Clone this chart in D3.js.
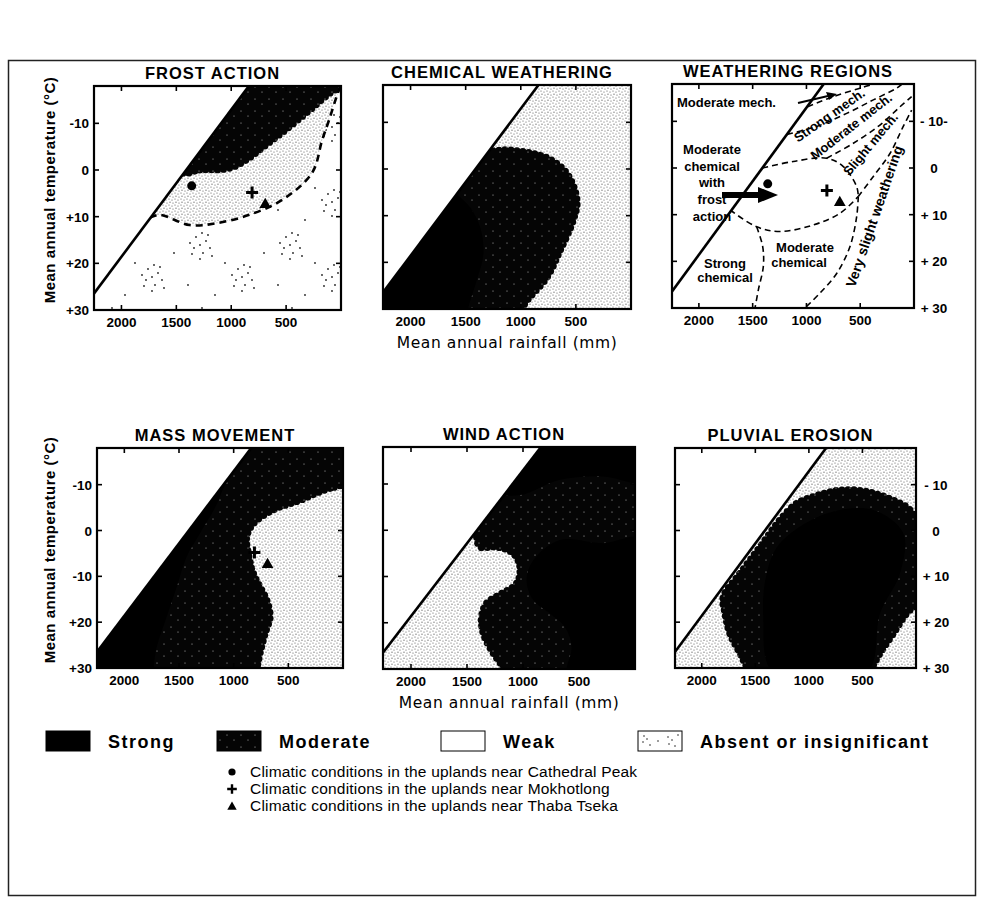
<!DOCTYPE html>
<html>
<head>
<meta charset="utf-8">
<script src="https://d3js.org/d3.v7.min.js"></script>
<style>
body { margin: 0; background: #fff; }
svg text { font-family: "Liberation Sans", Arial, sans-serif; fill: #000; }
</style>
</head>
<body>
<svg id="chart" width="988" height="908"></svg>
<script>
// Axes
const rainDomain = [2250, 0];
const tempDomain = [-18, 30];
const rainTicks = [2000, 1500, 1000, 500];
const tempTicks = [-10, 0, 10, 20, 30];
const leftLabelsTop = ['-10', '0', '+10', '+20', '+30'];
const leftLabelsBottom = ['-10', '0', '-10', '+20', '+30'];
const rightLabelsTop = ['- 10-', '0', '+ 10', '+ 20', '+ 30'];
const rightLabelsBottom = ['- 10', '0', '+ 10', '+ 20', '+ 30'];

// Climatic limit (rainfall mm, temperature °C)
const limitLine = [[2400, 31.2], [760, -20.5]];
const validArea = [[2400, 31.2], [760, -20.5], [-100, -20.5], [-100, 36], [2400, 36]];

// Stations
const stationNames = ['Cathedral Peak', 'Mokhotlong', 'Thaba Tseka'];
const stationSymbols = ['circle', 'plus', 'triangle'];
const stationRain = [1360, 810, 690];
const stationTemp = [3.4, 4.8, 7.2];

// FROST ACTION
const frostModerate = [[1450, 0.5], [1288, 0], [989, -0.6], [626, -6.4], [317, -12.2], [100, -16.5], [-60, -19], [-60, -24], [700, -24], [1500, -24], [1600, -10]];
const frostLight = [[1760, 10], [1651, 9.6], [1379, 11.8], [1134, 11.4], [835, 9.6], [535, 6.4], [263, 0.6], [172, -6.4], [109, -10.7], [36, -16], [-30, -20], [-60, -25], [1000, -25], [2300, -25], [2300, 10]];
const frostDashed = [[1740, 10.2], [1651, 9.6], [1379, 11.8], [1134, 11.4], [835, 9.6], [535, 6.4], [263, 0.6], [172, -6.4], [109, -10.7], [36, -16], [-30, -20]];

// CHEMICAL WEATHERING
const chemModerate = [[1400, -4.5], [1252, -3.9], [1125, -4.1], [762, -2.4], [580, 1.0], [490, 6.8], [526, 11.1], [644, 17.5], [762, 23.2], [943, 28.2], [1020, 31], [1100, 35], [2000, 35], [2400, 20], [2000, 0]];
const chemStrong = [[1700, 3], [1581, 5.4], [1460, 8.2], [1369, 12.5], [1339, 18.2], [1400, 23.9], [1480, 30], [1520, 35], [2400, 35], [2400, 3]];

// WEATHERING REGIONS (boundaries)
const wrF1 = [[990, -13.1], [750, -15.3], [502, -17.1], [350, -18.2]];
const wrF2 = [[1180, -7.2], [905, -8.9], [626, -11.7], [378, -14.6], [162, -17.1], [100, -18.2]];
const wrTop = [[1410, 0], [1122, -1.4], [812, -2.1], [657, -0.3], [533, 4.0], [518, 6.1]];
const wrF3 = [[812, -2.1], [564, -5.3], [317, -9.2], [131, -13.1], [22, -15.3]];
const wrBottom = [[1710, 9.0], [1463, 12.6], [1246, 13.6], [936, 12.2], [688, 9.7], [518, 6.1]];
const wrF4 = [[518, 6.1], [378, 1.8], [224, -3.1], [100, -8.9], [22, -12.4]];
const wrD1 = [[1463, 12.6], [1407, 16.8], [1401, 21.1], [1447, 26.1], [1478, 30]];
const wrD2 = [[518, 6.1], [533, 10.4], [595, 16.8], [719, 22.6], [874, 26.8], [1014, 30]];

// MASS MOVEMENT
const massLight = [[-60, -9.5], [118, -9.2], [393, -6.6], [637, -4.5], [820, -1.5], [881, 1.4], [866, 5.0], [820, 9.4], [759, 12.3], [698, 15.2], [667, 18.8], [713, 22.5], [759, 26.8], [790, 31], [800, 36], [-80, 36], [-80, 10]];
const massStrong = [[1064, -15.4], [1125, -7.4], [1308, 0.6], [1430, 5.7], [1521, 12.3], [1613, 18.8], [1704, 25.4], [1734, 30.1], [1760, 36], [2500, 36], [2500, -16]];

// WIND ACTION
const windModerate = [[1500, -1], [1429, 0.3], [1385, 3.6], [1236, 3.6], [1087, 5.0], [1027, 7.9], [1057, 11.5], [1191, 13.7], [1325, 15.8], [1370, 18.7], [1355, 22.3], [1265, 26.6], [1176, 30], [1150, 36], [-80, 36], [-80, -25], [1200, -25]];
const windStrongTop = [[1250, -8.5], [1027, -7.6], [670, -10.9], [283, -11.6], [0, -10.1], [-80, -10], [-80, -25], [1100, -25]];
const windStrongLow = [[-80, 2], [283, 2.8], [670, 2.1], [908, 6.5], [968, 10.8], [908, 15.1], [760, 18.0], [626, 20.9], [566, 25.2], [611, 30], [620, 36], [-80, 36]];

// PLUVIAL EROSION
const pluvModerate = [[1799, 14.5], [1643, 9.4], [1457, 3.6], [1270, -2.3], [1114, -5.9], [959, -7.4], [710, -8.8], [461, -8.5], [212, -6.6], [56, -4.5], [-40, 0], [-60, 8], [-40, 15], [87, 18.1], [212, 22.5], [336, 26.8], [430, 31], [500, 36], [1400, 36], [1550, 31], [1643, 26.8], [1737, 22.5], [1783, 18.1]];
const pluvStrong = [[1270, 2.8], [834, -3.7], [399, -4.5], [119, 0.6], [150, 9.4], [336, 18.1], [461, 31], [1332, 31], [1426, 18.8], [1394, 9.4]];

const panels = [
    { title: 'FROST ACTION', x: 94, y: 86, w: 247, h: 224, base: 'absent',
      regions: [{ pts: frostLight, fill: 'light' }, { pts: frostModerate, fill: 'moderate', scallop: true }],
      dashed: [frostDashed], dashWidth: 2.6, dash: '7,5', stations: [0, 1, 2], left: leftLabelsTop },
    { title: 'CHEMICAL WEATHERING', x: 383, y: 85, w: 248, h: 224, base: 'light',
      regions: [{ pts: chemModerate, fill: 'moderate', scallop: true }, { pts: chemStrong, fill: 'strong' }],
      dashed: [], stations: [] },
    { title: 'WEATHERING REGIONS', x: 672, y: 84, w: 242, h: 224, base: 'weak',
      regions: [], dashed: [wrF1, wrF2, wrTop, wrF3, wrBottom, wrF4, wrD1, wrD2], dashWidth: 1.6, dash: '6,4',
      stations: [0, 1, 2], right: rightLabelsTop },
    { title: 'MASS MOVEMENT', x: 97, y: 448, w: 246, h: 220, base: 'moderate',
      regions: [{ pts: massLight, fill: 'light', scallop: true }, { pts: massStrong, fill: 'strong' }],
      dashed: [], stations: [1, 2], left: leftLabelsBottom },
    { title: 'WIND ACTION', x: 383, y: 447, w: 252, h: 222, base: 'light',
      regions: [{ pts: windModerate, fill: 'moderate', scallop: true }, { pts: windStrongTop, fill: 'strong' }, { pts: windStrongLow, fill: 'strong' }],
      dashed: [], stations: [] },
    { title: 'PLUVIAL EROSION', x: 675, y: 448, w: 241, h: 220, base: 'light',
      regions: [{ pts: pluvModerate, fill: 'moderate', scallop: true }, { pts: pluvStrong, fill: 'strong' }],
      dashed: [], stations: [], right: rightLabelsBottom }
];

const svg = d3.select('#chart');
const defs = svg.append('defs');

// Fill patterns
const lightPat = defs.append('pattern').attr('id', 'light')
    .attr('patternUnits', 'userSpaceOnUse').attr('width', 6).attr('height', 6);
lightPat.append('rect').attr('width', 6).attr('height', 6).attr('fill', '#fff');
[[1, 1], [4, 2], [2, 4.2], [5, 5]].forEach(([cx, cy]) =>
    lightPat.append('circle').attr('cx', cx).attr('cy', cy).attr('r', 0.6).attr('fill', '#555'));

const modPat = defs.append('pattern').attr('id', 'moderate')
    .attr('patternUnits', 'userSpaceOnUse').attr('width', 14).attr('height', 12);
modPat.append('rect').attr('width', 14).attr('height', 12).attr('fill', '#050505');
[[3, 3], [10, 8]].forEach(([cx, cy]) =>
    modPat.append('circle').attr('cx', cx).attr('cy', cy).attr('r', 0.55).attr('fill', '#fff').attr('opacity', 0.75));

const absPat = defs.append('pattern').attr('id', 'absent')
    .attr('patternUnits', 'userSpaceOnUse').attr('width', 90).attr('height', 75);
absPat.append('rect').attr('width', 90).attr('height', 75).attr('fill', '#fff');
const clusterDots = [[0, 0], [6, -4], [-6, 3], [3, 8], [-4, -8], [10, 3], [-10, -2], [2, -12], [8, -10], [-8, 9], [12, 11], [0, 14]];
[[20, 20], [62, 52]].forEach(([cx, cy]) => clusterDots.forEach(([dx, dy]) =>
    absPat.append('circle').attr('cx', cx + dx).attr('cy', cy + dy).attr('r', 0.9).attr('fill', '#222')));
[[45, 38], [8, 60], [84, 28], [35, 70]].forEach(([cx, cy]) =>
    absPat.append('circle').attr('cx', cx).attr('cy', cy).attr('r', 0.9).attr('fill', '#222'));

const fills = { light: 'url(#light)', moderate: 'url(#moderate)', absent: 'url(#absent)', strong: '#000', weak: '#fff' };

panels.forEach((p, i) => {
    const x = d3.scaleLinear().domain(rainDomain).range([p.x, p.x + p.w]);
    const y = d3.scaleLinear().domain(tempDomain).range([p.y, p.y + p.h]);
    const pt = d => [x(d[0]), y(d[1])];
    const closed = d3.line().curve(d3.curveCatmullRomClosed);
    const open = d3.line().curve(d3.curveCatmullRom);

    defs.append('clipPath').attr('id', 'panel' + i).append('rect')
        .attr('x', p.x).attr('y', p.y).attr('width', p.w).attr('height', p.h);
    const validPath = d3.line()(validArea.map(pt)) + 'Z';
    defs.append('clipPath').attr('id', 'valid' + i).append('path').attr('d', validPath);

    const g = svg.append('g').attr('clip-path', `url(#panel${i})`);
    g.append('rect').attr('x', p.x).attr('y', p.y).attr('width', p.w).attr('height', p.h).attr('fill', '#fff');
    const inner = g.append('g').attr('clip-path', `url(#valid${i})`);
    inner.append('path').attr('d', validPath).attr('fill', fills[p.base]);

    p.regions.forEach(r => {
        const path = inner.append('path').attr('d', closed(r.pts.map(pt))).attr('fill', fills[r.fill]);
        if (r.scallop) {
            const node = path.node();
            const len = node.getTotalLength();
            for (let s = 0; s < len; s += 6) {
                const q = node.getPointAtLength(s);
                if (q.x < p.x - 6 || q.x > p.x + p.w + 6 || q.y < p.y - 6 || q.y > p.y + p.h + 6) continue;
                inner.append('circle').attr('cx', q.x).attr('cy', q.y).attr('r', 3.6).attr('fill', 'url(#moderate)');
            }
        }
    });

    p.dashed.forEach(d => {
        inner.append('path').attr('d', open(d.map(pt)))
            .attr('fill', 'none').attr('stroke', '#000')
            .attr('stroke-width', p.dashWidth).attr('stroke-dasharray', p.dash);
    });

    // limit line
    g.append('line')
        .attr('x1', x(limitLine[0][0])).attr('y1', y(limitLine[0][1]))
        .attr('x2', x(limitLine[1][0])).attr('y2', y(limitLine[1][1]))
        .attr('stroke', '#000').attr('stroke-width', 2.6);

    // stations
    p.stations.forEach(k => {
        drawSymbol(g, stationSymbols[k], x(stationRain[k]), y(stationTemp[k]), 1);
    });

    // frame + ticks
    svg.append('rect').attr('x', p.x).attr('y', p.y).attr('width', p.w).attr('height', p.h)
        .attr('fill', 'none').attr('stroke', '#000').attr('stroke-width', 2.2);
    const tk = svg.append('g').attr('stroke', '#000').attr('stroke-width', 1.6);
    rainTicks.forEach(t => {
        tk.append('line').attr('x1', x(t)).attr('x2', x(t)).attr('y1', p.y).attr('y2', p.y + 5);
        tk.append('line').attr('x1', x(t)).attr('x2', x(t)).attr('y1', p.y + p.h).attr('y2', p.y + p.h - 5);
    });
    tempTicks.slice(0, 4).forEach(t => {
        tk.append('line').attr('x1', p.x).attr('x2', p.x + 5).attr('y1', y(t)).attr('y2', y(t));
        tk.append('line').attr('x1', p.x + p.w).attr('x2', p.x + p.w - 5).attr('y1', y(t)).attr('y2', y(t));
    });

    // tick labels
    rainTicks.forEach(t => {
        svg.append('text').attr('x', x(t)).attr('y', p.y + p.h + 17)
            .attr('text-anchor', 'middle').attr('font-size', 13.5).attr('font-weight', 'bold').text(t);
    });
    if (p.left) {
        tempTicks.forEach((t, j) => {
            svg.append('text').attr('x', p.x - 5).attr('y', y(t) + 5)
                .attr('text-anchor', 'end').attr('font-size', 13.5).attr('font-weight', 'bold').text(p.left[j]);
        });
    }
    if (p.right) {
        tempTicks.forEach((t, j) => {
            svg.append('text').attr('x', p.x + p.w + 20).attr('y', y(t) + 5)
                .attr('text-anchor', 'middle').attr('font-size', 13.5).attr('font-weight', 'bold').text(p.right[j]);
        });
    }

    svg.append('text').attr('x', p.x + p.w / 2 - 5).attr('y', p.y - 7)
        .attr('text-anchor', 'middle').attr('font-size', 16.5).attr('font-weight', 'bold')
        .attr('letter-spacing', 1).text(p.title);

    if (i % 3 === 0) {
        svg.append('text')
            .attr('transform', `translate(55,${p.y + p.h / 2 - 8}) rotate(-90)`)
            .attr('text-anchor', 'middle').attr('font-size', 15).attr('font-weight', 'bold')
            .attr('letter-spacing', 0.5)
            .text('Mean annual temperature (°C)');
    }
    if (i === 1 || i === 4) {
        svg.append('text').attr('x', p.x + p.w / 2).attr('y', p.y + p.h + 39)
            .attr('text-anchor', 'middle').attr('font-size', 15.5).attr('letter-spacing', 0.6)
            .style('font-family', '"DejaVu Sans", sans-serif')
            .text('Mean annual rainfall (mm)');
    }
});

// Weathering regions annotations
const wr = svg.append('g').attr('font-weight', 'bold').attr('font-size', 13);
wr.append('text').attr('x', 677).attr('y', 107).text('Moderate mech.');
[['Moderate', 154], ['chemical', 171], ['with', 187], ['frost', 204], ['action', 221]].forEach(([t, yy]) =>
    wr.append('text').attr('x', 712).attr('y', yy).attr('text-anchor', 'middle').text(t));
[['Strong', 725, 268], ['chemical', 725, 282], ['Moderate', 805, 252], ['chemical', 799, 267]].forEach(([t, xx, yy]) =>
    wr.append('text').attr('x', xx).attr('y', yy).attr('text-anchor', 'middle').text(t));
[['Strong mech.', 832, 119, -35, 13], ['Moderate mech.', 854, 130, -38, 13], ['Slight mech.', 874, 147, -50, 13], ['Very slight weathering', 879, 218, -71, 14]]
    .forEach(([t, xx, yy, a, fs]) =>
        wr.append('text').attr('transform', `translate(${xx},${yy}) rotate(${a})`)
            .attr('font-size', fs).attr('text-anchor', 'middle').text(t));
// small arrow
wr.append('line').attr('x1', 798).attr('y1', 103).attr('x2', 828).attr('y2', 96)
    .attr('stroke', '#000').attr('stroke-width', 2);
wr.append('path').attr('d', 'M837,94 L826,92 L829,100 Z').attr('fill', '#000');
// big arrow
wr.append('rect').attr('x', 722).attr('y', 192).attr('width', 40).attr('height', 6).attr('fill', '#000');
wr.append('path').attr('d', 'M778,195 L758,187 L758,203 Z').attr('fill', '#000');

// Symbols
function drawSymbol(sel, kind, sx, sy, scale) {
    if (kind === 'circle') {
        sel.append('circle').attr('cx', sx).attr('cy', sy).attr('r', 4.5 * scale).attr('fill', '#000');
    } else if (kind === 'plus') {
        const s = 6 * scale;
        sel.append('path').attr('d', `M${sx - s},${sy}H${sx + s}M${sx},${sy - s}V${sy + s}`)
            .attr('stroke', '#000').attr('stroke-width', 3 * scale);
    } else {
        sel.append('path').attr('transform', `translate(${sx},${sy + 1})`)
            .attr('d', d3.symbol(d3.symbolTriangle, 60 * scale * scale)()).attr('fill', '#000');
    }
}

// Legend
const legendNames = ['Strong', 'Moderate', 'Weak', 'Absent or insignificant'];
const legendFills = ['strong', 'moderate', 'weak', 'absent'];
const legendX = [46, 217, 441, 638];
const lg = svg.append('g');
legendNames.forEach((n, j) => {
    lg.append('rect').attr('x', legendX[j]).attr('y', 731).attr('width', 44).attr('height', 20)
        .attr('fill', legendFills[j] === 'absent' ? '#fff' : fills[legendFills[j]])
        .attr('stroke', '#000').attr('stroke-width', 1);
    if (legendFills[j] === 'absent') {
        [[6, 5], [9, 8], [5, 11], [12, 14], [30, 6], [34, 9], [31, 13], [37, 15], [20, 10], [40, 4]].forEach(([dx, dy]) =>
            lg.append('circle').attr('cx', legendX[j] + dx).attr('cy', 731 + dy).attr('r', 0.8).attr('fill', '#222'));
    }
    lg.append('text').attr('x', legendX[j] + 62).attr('y', 748)
        .attr('font-size', 18).attr('font-weight', 'bold').attr('letter-spacing', 1.5).text(n);
});

stationNames.forEach((n, k) => {
    const yy = 772 + k * 17;
    drawSymbol(lg, stationSymbols[k], 232, yy, 0.8);
    lg.append('text').attr('x', 250).attr('y', yy + 5).attr('font-size', 15.5).attr('letter-spacing', 0.2)
        .text('Climatic conditions in the uplands near ' + n);
});

// Outer border
svg.append('rect').attr('x', 8.5).attr('y', 60.5).attr('width', 967).attr('height', 835)
    .attr('fill', 'none').attr('stroke', '#222').attr('stroke-width', 1.5);
</script>
</body>
</html>
